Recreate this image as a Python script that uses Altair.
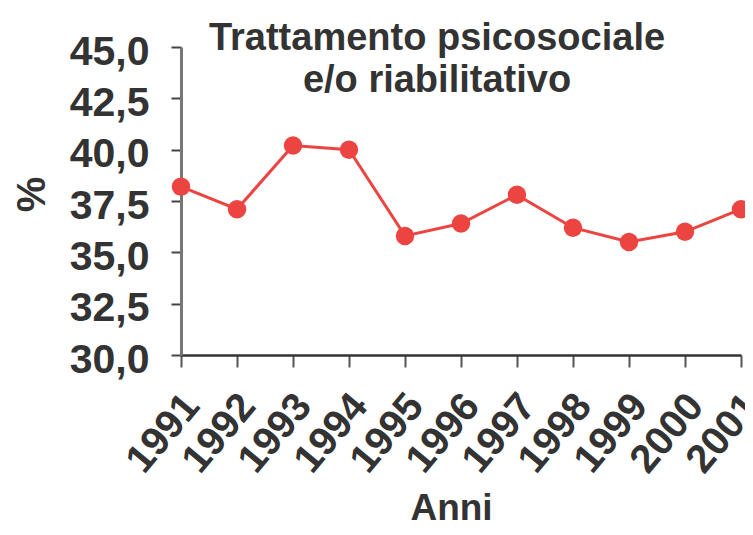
import altair as alt
import pandas as pd

# Data
years = ["1991", "1992", "1993", "1994", "1995", "1996", "1997", "1998", "1999", "2000", "2001"]
values = [38.2, 37.1, 40.2, 40.0, 35.8, 36.4, 37.8, 36.2, 35.5, 36.0, 37.1]
y_ticks = [30.0, 32.5, 35.0, 37.5, 40.0, 42.5, 45.0]
title_lines = ["Trattamento psicosociale", "e/o riabilitativo"]
x_title = "Anni"
y_title = "%"

df = pd.DataFrame({"Anno": years, "Valore": values})

FONT = "Liberation Sans"
TEXT = "#333333"
RED = "#ec4440"

x_enc = alt.X(
    "Anno:O",
    sort=years,
    scale=alt.Scale(type="point", padding=0),
    axis=alt.Axis(
        title=x_title,
        labelAngle=-50,
        labelAlign="center",
        labelBaseline="middle",
        labelPadding=66,
        labelOffset=-18,
        labelOverlap=False,
        labelFont=FONT,
        labelFontSize=40,
        labelFontWeight="bold",
        labelColor=TEXT,
        tickSize=12,
        tickColor="#555555",
        tickWidth=2,
        domainColor="#333333",
        domainWidth=2.5,
        grid=False,
        titleFont=FONT,
        titleFontSize=37,
        titleFontWeight="bold",
        titleColor=TEXT,
        titleX=270,
        titleY=164,
        titleAlign="center",
        titleBaseline="alphabetic",
    ),
)

y_enc = alt.Y(
    "Valore:Q",
    scale=alt.Scale(domain=[30, 45], nice=False, zero=False),
    axis=alt.Axis(
        title=y_title,
        values=y_ticks,
        labelExpr="replace(format(datum.value, '.1f'), '.', ',')",
        labelFont=FONT,
        labelFontSize=41,
        labelFontWeight="bold",
        labelColor=TEXT,
        labelPadding=22,
        labelOffset=5,
        labelOverlap=False,
        tickSize=10,
        tickColor="#444444",
        tickWidth=2,
        domainColor="#777777",
        domainWidth=3,
        grid=False,
        titleFont=FONT,
        titleFontSize=40,
        titleFontWeight="bold",
        titleColor=TEXT,
        titleX=-149,
        titleY=147,
        titleAngle=-90,
        titleAlign="center",
        titleBaseline="middle",
    ),
)

base = alt.Chart(df)
line = base.mark_line(color=RED, strokeWidth=3).encode(x=x_enc, y=y_enc)
pts = base.mark_circle(color=RED, size=340, opacity=1).encode(x=x_enc, y=y_enc)

chart = (
    alt.layer(line, pts)
    .properties(
        width=560,
        height=308,
        autosize=alt.AutoSizeParams(type="none"),
        padding={"left": 173, "top": 39, "right": 4, "bottom": 172},
        title=alt.TitleParams(
            text=title_lines,
            font=FONT,
            fontSize=38,
            fontWeight="bold",
            color=TEXT,
            anchor="middle",
            frame="group",
            baseline="alphabetic",
            lineHeight=42,
            dx=-24,
            dy=99,
            offset=0,
            orient="top",
        ),
    )
    .configure_view(stroke=None)
)

chart.save("out.html", embed_options={"renderer": "svg", "actions": False})
